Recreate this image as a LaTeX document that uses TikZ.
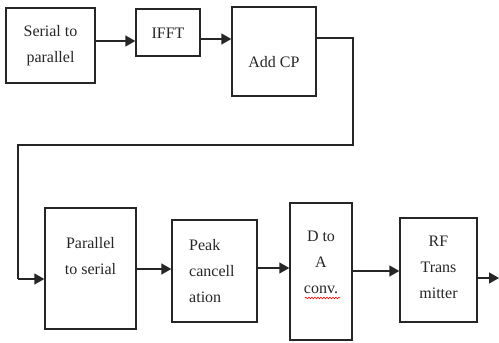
\documentclass[tikz,border=0pt]{standalone}
\usepackage{fontspec}
\setmainfont{Liberation Serif}
\usetikzlibrary{arrows.meta,decorations.pathmorphing}
\begin{document}
\begin{tikzpicture}[x=1pt,y=-1pt,
  box/.style={draw=black!85,line width=1.4pt,inner sep=0pt},
  txt/.style={font=\fontsize{16}{26}\selectfont,align=center,inner sep=0pt,text=black!85},
  conn/.style={draw=black!85,line width=1.5pt},
  arr/.style={conn,-{Triangle[length=10pt,width=11pt]}}]
\useasboundingbox (0,0) rectangle (499,343);
% top row boxes
\node[box,minimum width=89pt,minimum height=75pt] (b1) at (50.5,45.5) {};
\node[txt] at (50.5,46) {Serial to\\parallel};
\node[box,minimum width=64pt,minimum height=47pt] (b2) at (168,32.5) {};
\node[txt] at (168,33) {IFFT};
\node[box,minimum width=84pt,minimum height=89pt] (b3) at (274,51.5) {};
\node[txt] at (274,62) {Add CP};
% bottom row boxes
\node[box,minimum width=91pt,minimum height=121pt] (b4) at (90.5,268.5) {};
\node[txt] at (90.5,256) {Parallel\\to serial};
\node[box,minimum width=85pt,minimum height=102pt] (b5) at (214.5,271) {};
\node[txt,align=left,anchor=west] at (189,271) {Peak\\cancell\\ation};
\node[box,minimum width=62pt,minimum height=137pt] (b6) at (321,271.5) {};
\node[txt] (t6) at (321,262) {D to\\A\\conv.};
\node[box,minimum width=77pt,minimum height=104pt] (b7) at (438.5,270) {};
\node[txt] at (438.5,267) {RF\\Trans\\mitter};
% spell-check squiggle
\draw[red,line width=0.6pt,decorate,decoration={snake,amplitude=0.8pt,segment length=3pt}] (305,298) -- (340,298);
% connectors
\coordinate (c1) at (353,38);
\coordinate (c2) at (353,145);
\coordinate (c3) at (18,145);
\coordinate (c4) at (18,279);
\coordinate (out) at (499,278);
\draw[arr] (b1.east |- 0,41) -- (b2.west |- 0,41);
\draw[arr] (b2.east |- 0,39) -- (b3.west |- 0,39);
\draw[conn] (b3.east |- c1) -- (c1) -- (c2) -- (c3) -- (c4);
\draw[arr] (c4) -- (b4.west |- c4);
\draw[arr] (b4.east |- 0,269) -- (b5.west |- 0,269);
\draw[arr] (b5.east |- 0,268) -- (b6.west |- 0,268);
\draw[arr] (b6.east |- 0,271) -- (b7.west |- 0,271);
\draw[arr] (b7.east |- out) -- (out);
\end{tikzpicture}
\end{document}
